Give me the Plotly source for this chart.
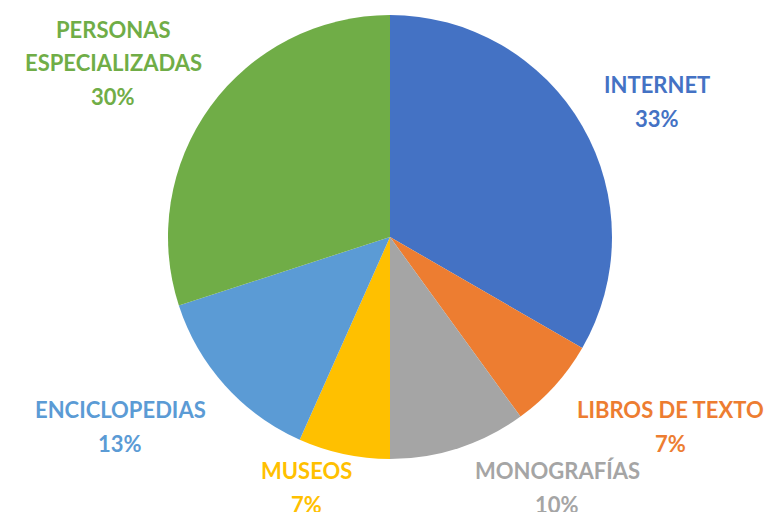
import plotly.graph_objects as go

categories = ["INTERNET", "LIBROS DE TEXTO", "MONOGRAFÍAS", "MUSEOS", "ENCICLOPEDIAS", "PERSONAS ESPECIALIZADAS"]
label_lines = [["INTERNET"], ["LIBROS DE TEXTO"], ["MONOGRAFÍAS"], ["MUSEOS"], ["ENCICLOPEDIAS"], ["PERSONAS", "ESPECIALIZADAS"]]
values = [10, 2, 3, 2, 4, 9]
colors = ["#4472C4", "#ED7D31", "#A5A5A5", "#FFC000", "#5B9BD5", "#70AD47"]

# label anchor positions (pixels): x centre, y centre of the percentage line
label_x = [657, 670, 557, 306, 120, 113]
label_y = [118, 443, 504, 504, 443, 96]
line_step = 33.5

W, H = 768, 512
cx, cy, r = 390, 237, 222

fig = go.Figure(go.Pie(
    labels=categories, values=values, sort=False, direction="clockwise", rotation=0,
    marker=dict(colors=colors, line=dict(width=0)),
    textinfo="none", hoverinfo="label+percent", showlegend=False,
    domain=dict(x=[(cx - r) / W, (cx + r) / W], y=[1 - (cy + r) / H, 1 - (cy - r) / H]),
))

total = sum(values)
for lines, v, c, lx, ly in zip(label_lines, values, colors, label_x, label_y):
    pct = round(v / total * 100)
    all_lines = lines + [f"{pct}%"]
    n = len(all_lines)
    for i, t in enumerate(all_lines):
        yy = ly - (n - 1 - i) * line_step
        fig.add_annotation(
            x=lx / W, y=1 - yy / H, xref="paper", yref="paper",
            text=t, showarrow=False,
            font=dict(family="Lato", size=22, color=c, weight="bold"),
            align="center", xanchor="center", yanchor="middle",
        )

fig.update_layout(width=W, height=H, margin=dict(l=0, r=0, t=0, b=0),
                  paper_bgcolor="white", plot_bgcolor="white")
fig.write_html("out.html", config={"displayModeBar": False},
               post_script="document.body.style.margin='0';document.body.style.overflow='hidden';")
